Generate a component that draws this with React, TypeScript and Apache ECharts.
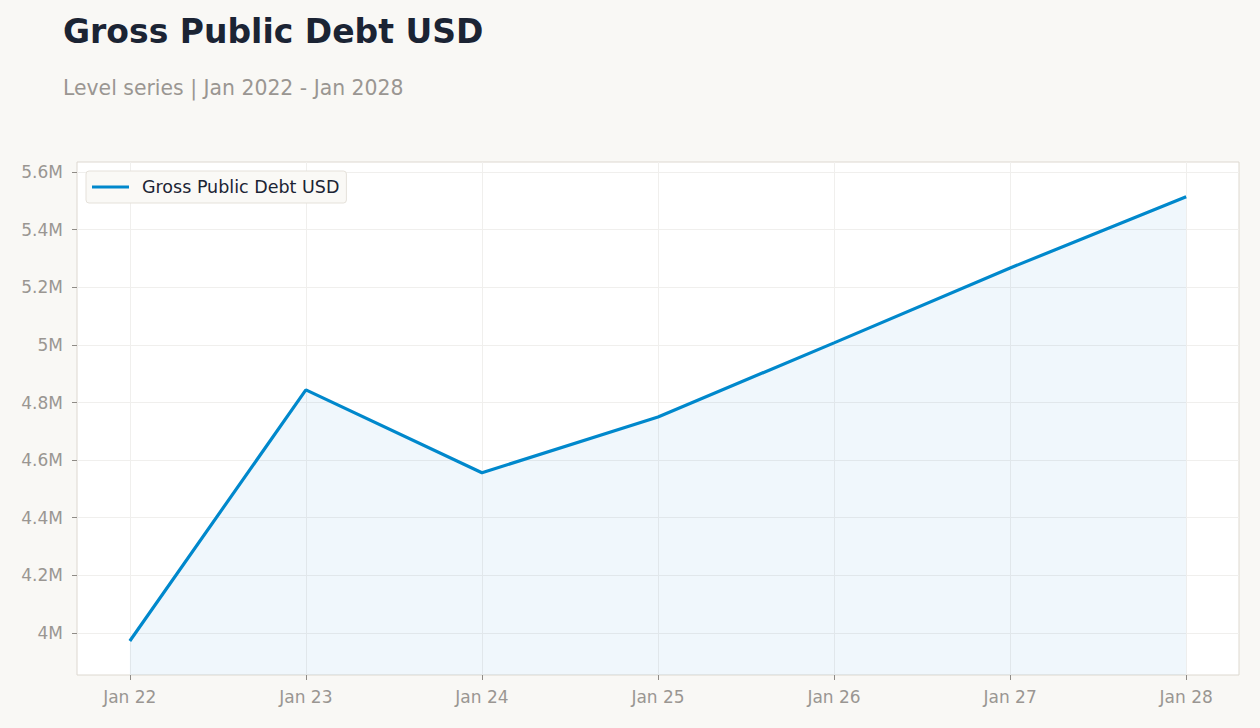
import React, { useEffect, useRef } from "react";
import * as echarts from "echarts";

const categories = ["Jan 22", "Jan 23", "Jan 24", "Jan 25", "Jan 26", "Jan 27", "Jan 28"];
const debtValues = [3972000, 4844000, 4556000, 4750000, 5007000, 5267000, 5514000];
const yTicks = [4000000, 4200000, 4400000, 4600000, 4800000, 5000000, 5200000, 5400000, 5600000];
const seriesName = "Gross Public Debt USD";

const FONT = "DejaVu Sans";

export default function App() {
  const ref = useRef<HTMLDivElement>(null);
  useEffect(() => {
    if (!ref.current) return;
    const chart = echarts.init(ref.current, null, { renderer: "svg" });
    const xIdx = categories.map((_, i) => i);
    chart.setOption({
      animation: false,
      backgroundColor: "#f9f8f5",
      textStyle: { fontFamily: FONT },
      title: {
        text: "Gross Public Debt USD",
        subtext: "Level series | Jan 2022 - Jan 2028",
        left: 58,
        top: 10,
        itemGap: 30,
        textStyle: { fontFamily: FONT, fontSize: 33, fontWeight: "bold", color: "#1b2434" },
        subtextStyle: { fontFamily: FONT, fontSize: 20.4, color: "#9a9692" },
      },
      legend: {
        left: 86,
        top: 171,
        padding: [7, 7, 7, 6],
        itemWidth: 37,
        itemHeight: 14,
        backgroundColor: "#faf9f6",
        borderColor: "#e5e1da",
        borderWidth: 1,
        borderRadius: 3,
        icon: "path://M0,6 L37,6 L37,9 L0,9 Z",
        textStyle: { fontFamily: FONT, fontSize: 17.5, color: "#1b2434", padding: [0, 0, 0, 8] },
        data: [seriesName],
      },
      grid: {
        left: 77,
        top: 162,
        right: 21,
        bottom: 53,
        show: true,
        backgroundColor: "#ffffff",
        borderColor: "#ddd8d0",
        borderWidth: 1,
        containLabel: false,
      },
      xAxis: {
        type: "value",
        min: -0.3,
        max: 6.3,
        axisLine: { show: false, onZero: false },
        axisTick: {
          show: true,
          length: 5,
          lineStyle: { color: "#8f8b86", width: 1 },
          customValues: xIdx,
        },
        axisLabel: {
          customValues: xIdx,
          formatter: (v: number) => categories[Math.round(v)] ?? "",
          fontFamily: FONT,
          fontSize: 17,
          color: "#9a9692",
          margin: 13,
        },
        splitLine: { show: true, lineStyle: { color: "#f0efed", width: 1 } },
      },
      yAxis: {
        type: "value",
        min: 3854000,
        max: 5635000,
        axisLine: { show: false, onZero: false },
        axisTick: {
          show: true,
          length: 5,
          lineStyle: { color: "#8f8b86", width: 1 },
          customValues: yTicks,
        },
        axisLabel: {
          customValues: yTicks,
          formatter: (v: number) => `${+(v / 1e6).toFixed(1)}M`,
          fontFamily: FONT,
          fontSize: 17,
          color: "#9a9692",
          margin: 14,
        },
        splitLine: { show: true, lineStyle: { color: "#f0efed", width: 1 } },
      },
      series: [
        {
          name: seriesName,
          type: "line",
          data: debtValues.map((v, i) => [xIdx[i], v]),
          showSymbol: false,
          symbol: "none",
          lineStyle: { color: "#0088cc", width: 3.2 },
          itemStyle: { color: "#0088cc" },
          areaStyle: { color: "rgba(0,120,200,0.085)", origin: "start" },
        },
      ],
    });
    return () => chart.dispose();
  }, []);
  return (
    <div
      ref={ref}
      style={{ position: "fixed", left: 0, top: 0, width: 1260, height: 728 }}
    />
  );
}
